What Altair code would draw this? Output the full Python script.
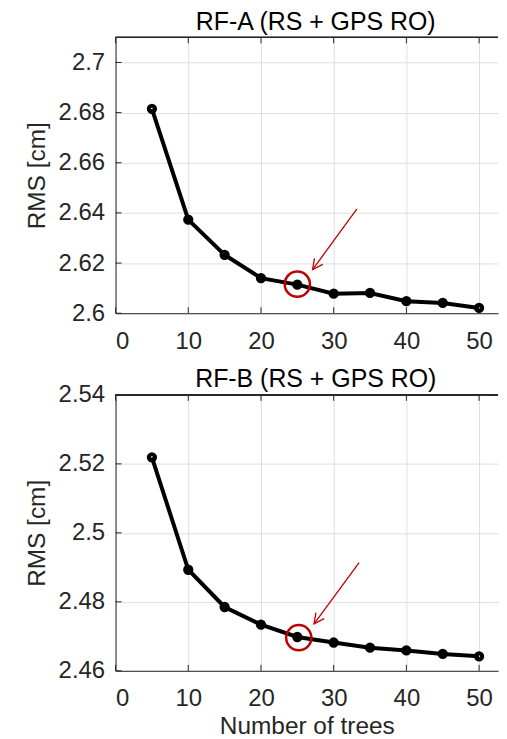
import altair as alt
import pandas as pd

# ---------------- data ----------------
trees = [5, 10, 15, 20, 25, 30, 35, 40, 45, 50]
rms_a = [2.6815, 2.6373, 2.6233, 2.6140, 2.6114, 2.6078, 2.6081, 2.6048, 2.6041, 2.6021]
rms_b = [2.5219, 2.4893, 2.4785, 2.4734, 2.4698, 2.4682, 2.4667, 2.4659, 2.4649, 2.4642]

x_ticks = [0, 10, 20, 30, 40, 50]
y_ticks_a = [2.60, 2.62, 2.64, 2.66, 2.68, 2.70]
y_ticks_b = [2.46, 2.48, 2.50, 2.52, 2.54]

title_a = "RF-A (RS + GPS RO)"
title_b = "RF-B (RS + GPS RO)"

# highlighted point (red circle) and arrow (start -> tip), data coordinates
circle_a = [25.0, 2.6116]
circle_b = [25.2, 2.4696]
arrow_a = [33.2, 2.6416, 27.1, 2.6174]
arrow_b = [33.5, 2.4914, 27.3, 2.4736]

W, H = 384, 277
X_DOMAIN = [0, W / 7.3]
FONT = "Liberation Sans"
AX = "#262626"
RED = "#c00000"


def panel(vals, ydom, yticks, title, circ, arr, xtitle, title_dy):
    df = pd.DataFrame({"x": trees, "y": vals})
    xs = alt.Scale(domain=X_DOMAIN, nice=False, zero=False)
    ys = alt.Scale(domain=ydom, nice=False, zero=False)
    xax = alt.Axis(values=x_ticks, format="d", grid=True, ticks=False, tickSize=0,
                   labelPadding=16, title=xtitle, titlePadding=4,
                   labelFont=FONT, labelFontSize=24, labelColor=AX,
                   titleFont=FONT, titleFontSize=24.5, titleColor=AX, titleFontWeight="normal")
    yax = alt.Axis(values=yticks, format=".3~r", grid=True, ticks=False, tickSize=0,
                   labelPadding=11, title="RMS [cm]", titlePadding=8.5,
                   labelFont=FONT, labelFontSize=24, labelColor=AX,
                   titleFont=FONT, titleFontSize=24.5, titleColor=AX, titleFontWeight="normal")

    base = alt.Chart(df)
    line = base.mark_line(color="black", strokeWidth=4).encode(
        x=alt.X("x:Q", scale=xs, axis=xax),
        y=alt.Y("y:Q", scale=ys, axis=yax),
    )
    pts = base.mark_point(filled=False, color="black", strokeWidth=4, size=40, opacity=1).encode(
        x=alt.X("x:Q", scale=xs), y=alt.Y("y:Q", scale=ys)
    )

    ytk = alt.Chart(pd.DataFrame({"v": yticks})).mark_rule(color=AX, strokeWidth=1).encode(
        y=alt.Y("v:Q", scale=ys), x=alt.value(0), x2=alt.value(6)
    )
    xtk = pd.DataFrame({"v": x_ticks})
    xtk_b = alt.Chart(xtk).mark_rule(color=AX, strokeWidth=1).encode(
        x=alt.X("v:Q", scale=xs), y=alt.value(H), y2=alt.value(H - 6)
    )
    xtk_t = alt.Chart(xtk).mark_rule(color=AX, strokeWidth=1).encode(
        x=alt.X("v:Q", scale=xs), y=alt.value(0), y2=alt.value(6)
    )
    # top frame line of the axes box (right edge lies outside the picture)
    top_edge = alt.Chart(xtk).mark_rule(color=AX, strokeWidth=1).encode(
        x=alt.value(0), x2=alt.value(W), y=alt.value(0)
    )

    cdf = pd.DataFrame({"x": [circ[0]], "y": [circ[1]]})
    ring = alt.Chart(cdf).mark_point(shape="circle", filled=False, color=RED, strokeWidth=2.5,
                                     size=640, opacity=1).encode(
        x=alt.X("x:Q", scale=xs), y=alt.Y("y:Q", scale=ys)
    )
    adf = pd.DataFrame({"x": [arr[0]], "y": [arr[1]], "x2": [arr[2]], "y2": [arr[3]]})
    shaft = alt.Chart(adf).mark_rule(color=RED, strokeWidth=1.3).encode(
        x=alt.X("x:Q", scale=xs), y=alt.Y("y:Q", scale=ys), x2="x2:Q", y2="y2:Q"
    )
    head = alt.Chart(adf).mark_point(shape="M -1 -0.5 L 0 0 L -1 0.5", filled=False, color=RED,
                                     strokeWidth=1.3, size=420, angle=126, opacity=1).encode(
        x=alt.X("x2:Q", scale=xs), y=alt.Y("y2:Q", scale=ys)
    )

    return alt.layer(line, ytk, xtk_b, xtk_t, top_edge, pts, ring, shaft, head).properties(
        width=W, height=H,
        title=alt.TitleParams(title, fontSize=25, font=FONT, fontWeight="normal",
                              color="black", offset=2, frame="group", dx=9, dy=title_dy),
    )


top = panel(rms_a, [2.6, 2.71], y_ticks_a, title_a, circle_a, arrow_a, None, 0)
bot = panel(rms_b, [2.46, 2.54], y_ticks_b, title_b, circle_b, arrow_b, "Number of trees", 11)

chart = alt.vconcat(top, bot, spacing=14).properties(
    padding={"left": 16, "top": 0, "right": 0, "bottom": 0}
).configure(background="white").configure_view(
    stroke="transparent", strokeWidth=0
).configure_axis(gridColor="#dedede", gridWidth=1, domainColor=AX)

chart.save("out.html", embed_options={"renderer": "svg", "actions": False})
